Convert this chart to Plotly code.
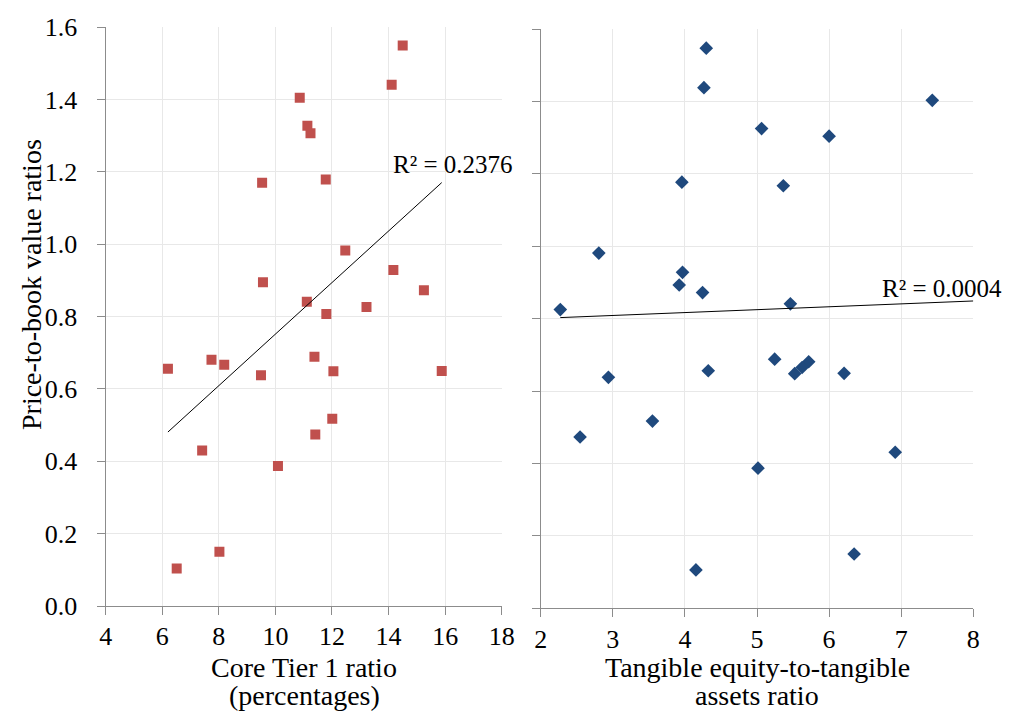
import numpy as np
import plotly.graph_objects as go

# Left panel: Core Tier 1 ratio (%) vs price-to-book
ct1_x = [14.50, 14.11, 10.86, 11.13, 11.24, 9.53, 11.78, 12.47, 14.17, 9.56, 15.25,
         11.11, 13.22, 11.80, 6.20, 7.74, 8.19, 9.49, 11.38, 12.05, 15.88, 12.01,
         11.41, 7.41, 10.09, 8.02, 6.51]
ct1_y = [1.550, 1.441, 1.405, 1.328, 1.307, 1.170, 1.179, 0.983, 0.929, 0.895, 0.873,
         0.841, 0.827, 0.807, 0.656, 0.681, 0.667, 0.638, 0.689, 0.649, 0.650, 0.518,
         0.474, 0.430, 0.387, 0.150, 0.104]

# Right panel: tangible equity-to-tangible assets ratio vs price-to-book
te_x = [4.296, 4.264, 7.431, 5.064, 6.000, 3.958, 5.365, 2.806, 3.967, 3.921, 4.245,
        5.463, 2.272, 5.245, 5.717, 5.625, 5.523, 4.324, 6.208, 2.939, 3.550, 2.546,
        6.917, 5.014, 6.347, 4.153]
te_y = [1.547, 1.438, 1.403, 1.325, 1.304, 1.177, 1.167, 0.981, 0.928, 0.893, 0.872,
        0.841, 0.825, 0.688, 0.681, 0.665, 0.648, 0.656, 0.649, 0.638, 0.517, 0.473,
        0.431, 0.387, 0.150, 0.106]

r2_left = "R² = 0.2376"
r2_right = "R² = 0.0004"
right_forecast_end = 8.0

left_title = ["Core Tier 1 ratio", "(percentages)"]
right_title = ["Tangible equity-to-tangible", "assets ratio"]
y_title = "Price-to-book value ratios"

FONT = "Liberation Serif, Times New Roman, serif"
AXC = "#8c8c8c"
GRID = "#e8e8e8"
W, H = 1020, 711

def fit_line(x, y, x0, x1):
    m, b = np.polyfit(np.array(x), np.array(y), 1)
    xs = [x0, x1]
    return xs, [m * v + b for v in xs]

fig = go.Figure()

fig.add_trace(go.Scatter(x=ct1_x, y=ct1_y, mode="markers",
                         marker=dict(symbol="square", size=10, color="#C0504D"),
                         xaxis="x", yaxis="y", showlegend=False))
lx, ly = fit_line(ct1_x, ct1_y, min(ct1_x), max(ct1_x))
fig.add_trace(go.Scatter(x=lx, y=ly, mode="lines", line=dict(color="black", width=1),
                         xaxis="x", yaxis="y", showlegend=False))

fig.add_trace(go.Scatter(x=te_x, y=te_y, mode="markers",
                         marker=dict(symbol="diamond", size=10.5, color="#1F497D"),
                         xaxis="x2", yaxis="y2", showlegend=False))
rx, ry = fit_line(te_x, te_y, min(te_x), right_forecast_end)
fig.add_trace(go.Scatter(x=rx, y=ry, mode="lines", line=dict(color="black", width=1),
                         xaxis="x2", yaxis="y2", showlegend=False))

common_axis = dict(showline=True, linecolor=AXC, linewidth=1.3, ticks="outside",
                   tickcolor=AXC, ticklen=8, tickwidth=1.3, showgrid=True,
                   gridcolor=GRID, gridwidth=1, zeroline=False, automargin=False,
                   tickfont=dict(family=FONT, size=26, color="black"))

L_X0, L_X1 = 105.7, 501.7
R_X0, R_X1 = 540.7, 973.3

fig.update_layout(
    template="none",
    width=W, height=H,
    margin=dict(l=0, r=0, t=0, b=0, autoexpand=False),
    paper_bgcolor="white", plot_bgcolor="white",
    font=dict(family=FONT, color="black"),
    xaxis=dict(domain=[L_X0 / W, L_X1 / W], range=[4, 18], dtick=2,
               anchor="y", ticklabelstandoff=-1, **common_axis),
    yaxis=dict(domain=[1 - 606 / H, 1 - 27.3 / H], range=[0, 1.6], dtick=0.2,
               tickformat=".1f", anchor="x", ticklabelstandoff=14, **common_axis),
    xaxis2=dict(domain=[R_X0 / W, R_X1 / W], range=[2, 8], dtick=1,
                anchor="y2", ticklabelstandoff=-1, **common_axis),
    yaxis2=dict(domain=[1 - 608.3 / H, 1 - 29 / H], range=[0, 1.6], dtick=0.2,
                showticklabels=False, anchor="x2", **common_axis),
    annotations=[
        dict(text=r2_left, x=14.07, y=1.222, xref="x", yref="y", xanchor="left",
             yanchor="middle", showarrow=False, font=dict(family=FONT, size=25)),
        dict(text=r2_right, x=6.71, y=0.882, xref="x2", yref="y2", xanchor="left",
             yanchor="middle", showarrow=False, font=dict(family=FONT, size=25)),
        dict(text=left_title[0], x=304 / W, y=1 - 667 / H, xref="paper", yref="paper",
             xanchor="center", yanchor="middle", showarrow=False, font=dict(family=FONT, size=28)),
        dict(text=left_title[1], x=304 / W, y=1 - 695.5 / H, xref="paper", yref="paper",
             xanchor="center", yanchor="middle", showarrow=False, font=dict(family=FONT, size=28)),
        dict(text=right_title[0], x=757 / W, y=1 - 667 / H, xref="paper", yref="paper",
             xanchor="center", yanchor="middle", showarrow=False, font=dict(family=FONT, size=28)),
        dict(text=right_title[1], x=757 / W, y=1 - 695.5 / H, xref="paper", yref="paper",
             xanchor="center", yanchor="middle", showarrow=False, font=dict(family=FONT, size=28)),
        dict(text=y_title, x=31 / W, y=1 - 285 / H, xref="paper", yref="paper",
             xanchor="center", yanchor="middle", textangle=-90, showarrow=False,
             font=dict(family=FONT, size=28)),
    ],
)

fig.write_html("out.html", config={"displayModeBar": False},
               post_script="document.body.style.margin='0px';document.body.style.overflow='hidden';")
